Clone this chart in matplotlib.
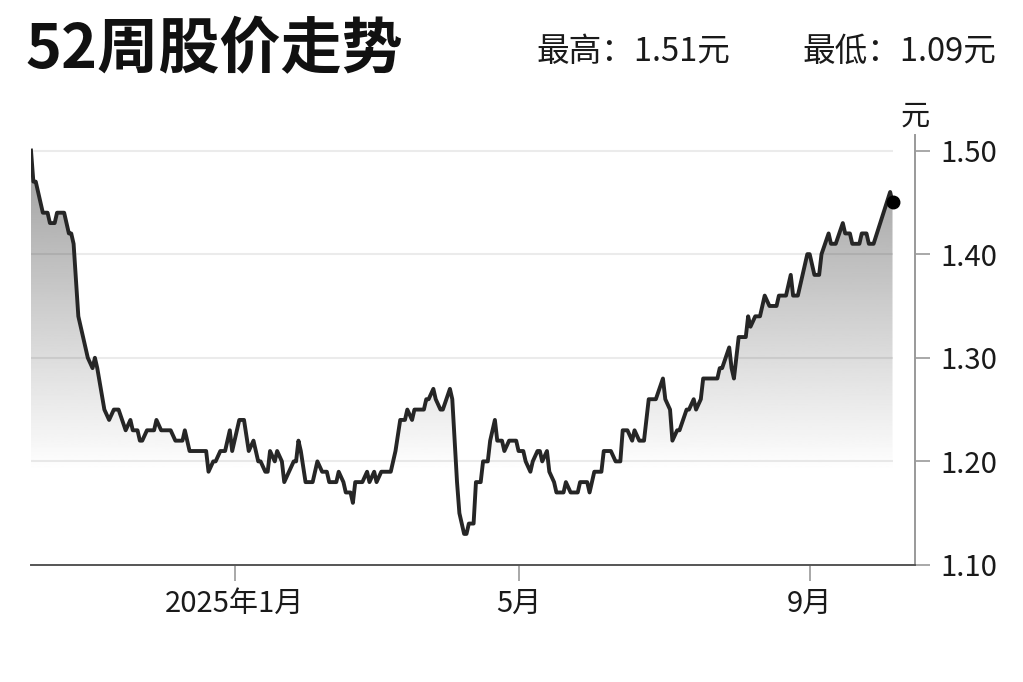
import matplotlib
matplotlib.use('Agg')
import matplotlib.pyplot as plt
import matplotlib.dates as mdates
import numpy as np
from datetime import date, timedelta

plt.rcParams['font.family'] = ['Noto Sans CJK SC', 'DejaVu Sans']

start = date(2024, 10, 7)

# days after start
day_offsets = [0, 1, 2, 5, 7, 8, 10, 11, 14, 16,
               17, 18, 20, 22, 24, 26, 27, 28, 31, 33,
               35, 37, 40, 42, 43, 45, 46, 47, 49, 52,
               53, 55, 59, 61, 64, 65, 67, 74, 75, 77,
               78, 80, 82, 84, 85, 88, 90, 92, 94, 96,
               97, 99, 100, 101, 103, 104, 106, 107, 109, 111,
               112, 113, 114, 116, 119, 121, 123, 125, 126, 129,
               130, 132, 133, 135, 136, 137, 140, 142, 143, 145,
               146, 148, 152, 154, 156, 158, 159, 161, 162, 166,
               167, 168, 170, 171, 173, 174, 177, 178, 180, 181,
               183, 184, 185, 187, 188, 190, 191, 193, 194, 196,
               197, 199, 200, 202, 205, 206, 208, 209, 211, 212,
               214, 215, 216, 218, 219, 221, 222, 225, 226, 228,
               231, 232, 235, 236, 238, 241, 242, 245, 247, 249,
               250, 252, 254, 255, 257, 259, 261, 264, 267, 268,
               270, 271, 273, 274, 277, 278, 280, 281, 283, 284,
               290, 291, 292, 295, 296, 297, 299, 302, 303, 304,
               306, 308, 310, 312, 315, 316, 319, 321, 322, 324,
               326, 328, 329, 331, 333, 334, 337, 338, 340, 343,
               344, 346, 347, 350, 351, 353, 354, 356, 363, 364]

prices = [1.50, 1.47, 1.47, 1.44, 1.44, 1.43, 1.43, 1.44, 1.44, 1.42,
          1.42, 1.41, 1.34, 1.32, 1.30, 1.29, 1.30, 1.29, 1.25, 1.24,
          1.25, 1.25, 1.23, 1.24, 1.23, 1.23, 1.22, 1.22, 1.23, 1.23,
          1.24, 1.23, 1.23, 1.22, 1.22, 1.23, 1.21, 1.21, 1.19, 1.20,
          1.20, 1.21, 1.21, 1.23, 1.21, 1.24, 1.24, 1.21, 1.22, 1.20,
          1.20, 1.19, 1.19, 1.21, 1.20, 1.21, 1.20, 1.18, 1.19, 1.20,
          1.20, 1.22, 1.21, 1.18, 1.18, 1.20, 1.19, 1.19, 1.18, 1.18,
          1.19, 1.18, 1.17, 1.17, 1.16, 1.18, 1.18, 1.19, 1.18, 1.19,
          1.18, 1.19, 1.19, 1.21, 1.24, 1.24, 1.25, 1.24, 1.25, 1.25,
          1.26, 1.26, 1.27, 1.26, 1.25, 1.25, 1.27, 1.26, 1.18, 1.15,
          1.13, 1.13, 1.14, 1.14, 1.18, 1.18, 1.20, 1.20, 1.22, 1.24,
          1.22, 1.22, 1.21, 1.22, 1.22, 1.21, 1.21, 1.20, 1.19, 1.20,
          1.21, 1.21, 1.20, 1.21, 1.19, 1.18, 1.17, 1.17, 1.18, 1.17,
          1.17, 1.18, 1.18, 1.17, 1.19, 1.19, 1.21, 1.21, 1.20, 1.20,
          1.23, 1.23, 1.22, 1.23, 1.22, 1.22, 1.26, 1.26, 1.28, 1.26,
          1.25, 1.22, 1.23, 1.23, 1.25, 1.25, 1.26, 1.25, 1.26, 1.28,
          1.28, 1.29, 1.29, 1.31, 1.29, 1.28, 1.32, 1.32, 1.34, 1.33,
          1.34, 1.34, 1.36, 1.35, 1.35, 1.36, 1.36, 1.38, 1.36, 1.36,
          1.38, 1.40, 1.40, 1.38, 1.38, 1.40, 1.42, 1.41, 1.41, 1.43,
          1.42, 1.42, 1.41, 1.41, 1.42, 1.42, 1.41, 1.41, 1.46, 1.45]

tick_dates = [date(2025, 1, 1), date(2025, 5, 1), date(2025, 9, 1)]
tick_labels = ['2025年1月', '5月', '9月']
y_ticks = [1.10, 1.20, 1.30, 1.40, 1.50]
grid_levels = [1.20, 1.30, 1.40, 1.50]
high_price = 1.51
low_price = 1.09

fig = plt.figure(figsize=(10.23, 6.82), dpi=100)
ax = fig.add_axes([31 / 1023, 117 / 682, 884 / 1023, 430 / 682])

x = mdates.date2num([start + timedelta(days=d) for d in day_offsets])
y = np.array(prices)
ymin, ymax = 1.10, 1.515

# gradient fill under the line
poly = ax.fill_between(x, y, ymin, color='none', lw=0)
levels = np.linspace(ymin, ymax, 256).reshape(-1, 1)
shade = np.interp(levels, [1.10, 1.19, 1.50], [1.0, 1.0, 0.62])
im = ax.imshow(shade, extent=[x[0], x[-1], ymin, ymax], origin='lower',
               aspect='auto', cmap='gray', vmin=0, vmax=1, zorder=1)
im.set_clip_path(poly.get_paths()[0], ax.transData)

ax.hlines(grid_levels, x[0], x[-1], colors='black', alpha=0.08, lw=1.5,
          zorder=2)
ax.plot(x, y, color='#262626', lw=2.8, solid_joinstyle='round', zorder=3)
ax.plot(x[-1], y[-1], 'o', color='black', ms=9, zorder=4)

ax.set_xlim(x[0], x[0] + 373.5)
ax.set_ylim(ymin, ymax)

for s in ['left', 'top']:
    ax.spines[s].set_visible(False)
ax.spines['right'].set_color('#999999')
ax.spines['right'].set_linewidth(1.4)
ax.spines['bottom'].set_color('#555555')
ax.spines['bottom'].set_linewidth(1.4)

ax.yaxis.tick_right()
ax.set_yticks(y_ticks)
ax.set_yticklabels([f'{v:.2f}' for v in y_ticks])
ax.tick_params(axis='y', length=11, width=1.2, color='#999999', pad=7,
               labelsize=21, labelcolor='#1a1a1a')
ax.set_xticks(mdates.date2num(tick_dates))
ax.set_xticklabels(tick_labels)
ax.tick_params(axis='x', length=11.5, width=1.2, color='#999999', pad=6,
               labelsize=21, labelcolor='#1a1a1a')

fig.text(25 / 1023, 1 - 50 / 682, '52周股价走势', fontsize=44,
         fontweight='bold', va='center', ha='left', color='#111111')
fig.text(536 / 1023, 1 - 52 / 682, f'最高：{high_price:.2f}元', fontsize=23.5,
         va='center', ha='left', color='#1a1a1a')
fig.text(996 / 1023, 1 - 52 / 682, f'最低：{low_price:.2f}元', fontsize=23.5,
         va='center', ha='right', color='#1a1a1a')
fig.text(915 / 1023, 1 - 117 / 682, '元', fontsize=21, va='center',
         ha='center', color='#1a1a1a')

fig.savefig('out.png', dpi=100)
